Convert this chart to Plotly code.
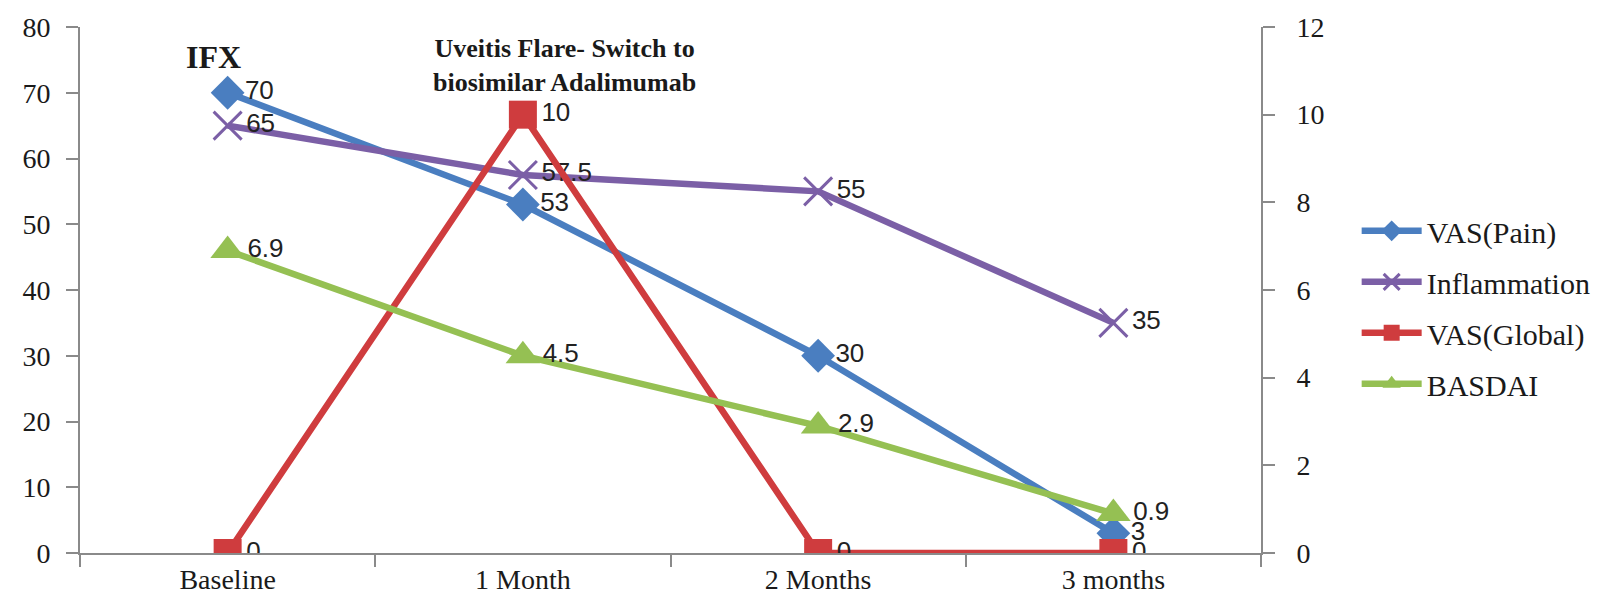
import plotly.graph_objects as go

categories = ["Baseline", "1 Month", "2 Months", "3 months"]
vas_pain = [70, 53, 30, 3]
inflammation = [65, 57.5, 55, 35]
vas_global = [0, 10, 0, 0]
basdai = [6.9, 4.5, 2.9, 0.9]

left_ticks = list(range(0, 81, 10))
right_ticks = list(range(0, 13, 2))

serif = "Liberation Serif"
sans = "Liberation Sans"
label_font = dict(family=sans, size=26, color="#222222")

def lbl(vals):
    return [("%g" % v) for v in vals]

fig = go.Figure()
fig.add_trace(go.Scatter(
    x=categories, y=vas_pain, name="VAS(Pain)", mode="lines+markers+text",
    legendgroup="a",
    line=dict(color="#4A7EC0", width=6.5),
    marker=dict(symbol="diamond", size=26, color="#4A7EC0"),
    text=lbl(vas_pain), textposition="middle right", textfont=label_font,
    yaxis="y"))
fig.add_trace(go.Scatter(
    x=categories, y=inflammation, name="Inflammation", mode="lines+markers+text",
    legendgroup="b",
    line=dict(color="#7B5FA6", width=6.5),
    marker=dict(symbol="x-thin-open", size=28, color="#7B5FA6",
                line=dict(width=3, color="#7B5FA6")),
    text=lbl(inflammation), textposition="middle right", textfont=label_font,
    yaxis="y"))
fig.add_trace(go.Scatter(
    x=categories, y=vas_global, name="VAS(Global)", mode="lines+markers+text",
    legendgroup="c",
    line=dict(color="#CF3C3E", width=6.5),
    marker=dict(symbol="square", size=28, color="#CF3C3E"),
    text=lbl(vas_global), textposition="middle right", textfont=label_font,
    yaxis="y2"))
fig.add_trace(go.Scatter(
    x=categories, y=basdai, name="BASDAI", mode="lines+markers+text",
    legendgroup="d",
    line=dict(color="#95C053", width=6.5),
    marker=dict(symbol="triangle-up", size=30, color="#95C053"),
    text=lbl(basdai), textposition="middle right", textfont=label_font,
    yaxis="y2"))

axis_color = "#8A8A8A"
tick_font = dict(family=serif, size=28, color="#1a1a1a")
fig.update_layout(
    width=1618, height=607,
    margin=dict(l=80, r=357, t=26, b=46),
    paper_bgcolor="white", plot_bgcolor="white",
    font=dict(family=serif, size=26, color="#1a1a1a"),
    xaxis=dict(
        type="category", categoryorder="array", categoryarray=categories,
        range=[-0.5, 3.5],
        showline=True, linecolor=axis_color, linewidth=2,
        ticks="outside", ticklen=12, tickcolor=axis_color, tickwidth=2,
        tickson="boundaries", showgrid=False, zeroline=False,
        tickfont=tick_font,
    ),
    yaxis=dict(
        range=[0, 80], tickvals=left_ticks, showline=True, linecolor=axis_color,
        linewidth=2, ticks="outside", ticklen=12, tickcolor=axis_color, tickwidth=2,
        showgrid=False, zeroline=False, ticklabelstandoff=10,
        tickfont=tick_font,
    ),
    yaxis2=dict(
        range=[0, 12], tickvals=right_ticks, overlaying="y", side="right",
        showline=True, linecolor=axis_color, linewidth=2, ticks="outside",
        ticklen=12, tickcolor=axis_color, tickwidth=2, showgrid=False,
        zeroline=False, ticklabelstandoff=16,
        tickfont=tick_font,
    ),
    legend=dict(
        x=1.081, y=0.467, xanchor="left", yanchor="middle",
        font=dict(family=serif, size=30, color="#1a1a1a"),
        bgcolor="rgba(0,0,0,0)", itemwidth=60,
        traceorder="grouped", tracegroupgap=9,
    ),
    showlegend=True,
    annotations=[
        dict(x="Baseline", y=75.5, xref="x", yref="y", text="<b>IFX</b>",
             showarrow=False, xshift=-14,
             font=dict(family=serif, size=32, color="#1a1a1a")),
        dict(x="1 Month", y=74.2, xref="x", yref="y",
             text="<b>Uveitis Flare- Switch to<br>biosimilar Adalimumab</b>",
             showarrow=False, xshift=42,
             font=dict(family=serif, size=26, color="#1a1a1a")),
    ],
)

fig.write_html("out.html")
